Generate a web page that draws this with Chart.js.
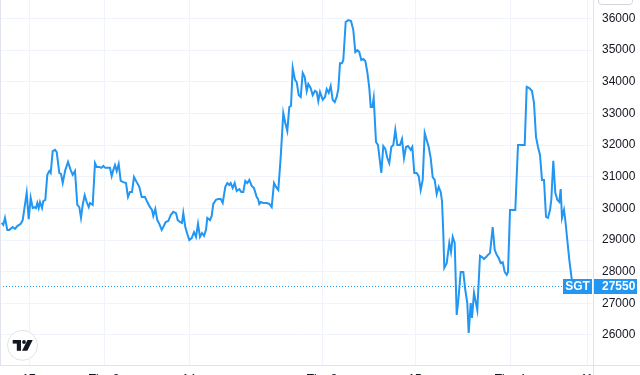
<!DOCTYPE html>
<html>
<head>
<meta charset="utf-8">
<script src="https://cdn.jsdelivr.net/npm/chart.js@4"></script>
<style>
  html, body { margin: 0; padding: 0; background: #fff; overflow: hidden; }
  canvas { display: block; }
</style>
</head>
<body>
<canvas id="chart" width="640" height="375"></canvas>
<script>
// Dados (posição no tempo / preço)
const times = [
  1.7,3.3,5,7.3,9.3,12.7,15,17.3,20.7,22.7,
  26.7,28.7,30.7,32.7,34.7,36,37.3,38.7,40,42,
  43.3,45.3,47.3,49.3,50.7,52.7,55,56.7,59.3,61,
  62.7,65.3,68,70.7,72.7,75,77.3,79.3,81,82.7,
  84.7,86.7,88.7,90,92.7,95,96.7,99.3,101.3,103.3,
  105.3,108,110,111.7,113.3,115,116.7,118.7,120.7,123.3,
  126,128,130,132,134,136.7,139.3,141.7,145,147.3,
  150,152,153.3,155.3,157.3,159.3,161.7,163.3,165.7,168.3,
  170.7,173.3,176,177.7,180,182,183.3,185.3,187.3,189.3,
  191.7,194,196,198,200,202,204,206,207.3,210,
  211.7,213.3,216,218.3,220.7,222.7,225.3,227.3,229.3,230.7,
  232.7,234.7,236.7,239.3,241.3,243.3,245.3,247.3,249.3,251.7,
  254,256.7,258,259.3,260.7,263.3,266.7,269.3,271.7,274,
  276,278.3,280.7,283.3,285.3,287.3,289.3,291,292.7,295,
  296.7,298.7,300.7,302.7,304.7,306.7,308.3,310.7,312.7,315,
  316.7,318.3,320,
  322.7,325,326.7,328.7,330.7,332.7,334.7,336.7,338.3,340,
  342,343.3,345.7,348.3,351,353.3,355.3,357.3,359.3,361.3,
  363.3,365.3,367.3,369.3,370.7,372.3,373.7,376,378,381.3,
  383.3,385.3,387.3,389.3,391.3,393.3,395.3,397.3,400,402,
  404,406,408,410.7,412.3,414.3,416.7,418.7,420.7,422.7,
  424.7,426.7,428.7,430.7,432.7,434.7,436.7,438.7,440.7,442,
  443.3,444.3,446.7,449.3,451,452.7,454.7,456.7,458.3,460.7,
  463.3,465.3,467.3,468.7,470.7,472,474,477.3,480,482,
  484,486,488,490,492.7,494.7,496.7,498.7,500.7,502.7,
  504.7,506.7,508,510,512,515.3,518,520.7,524.7,526.7,
  529.3,532,534,536,538,540,542,544,546,548,
  550,551.3,553.3,555.3,557.3,559.3,560.7,562,564,565.3,
  567.3,569.3,571.7,572.7
];

const prices = [
  29540,29480,29700,29320,29320,29410,29350,29440,29510,29630,
  30490,29660,30330,30010,30040,30010,30170,30010,30200,30010,
  30230,30270,31060,31180,31120,31810,31850,31780,31120,31090,
  30800,31210,31470,31210,31060,31180,30110,30040,29700,30110,
  30420,30200,30040,30170,30110,31430,31310,31310,31280,31340,
  31280,31280,31280,31020,31210,31370,31180,31400,30870,30830,
  30800,30360,30520,30520,30990,30830,30680,30360,30360,30200,
  30040,29950,29760,29980,29630,29510,29320,29410,29570,29600,
  29790,29890,29850,29630,29570,29540,29850,29410,29190,29000,
  29060,29250,29100,29510,29100,29220,29130,29320,29700,29630,
  29760,30140,30270,30300,30300,30170,30680,30800,30740,30800,
  30640,30800,30550,30610,30520,30520,30870,30800,30900,30710,
  30640,30360,30300,30140,30200,30170,30170,30140,30040,30800,
  30680,30580,31620,33010,32700,32450,33200,33240,34440,34060,
  33990,33580,33520,34280,34150,33710,33930,33800,33580,33710,
  33680,33390,33680,
  33430,33520,33770,33650,33870,33430,33360,33520,33770,34590,
  34590,34690,35890,35950,35920,35640,34940,35000,34940,34690,
  34720,34660,34310,33800,33200,33200,33490,32100,32000,31120,
  31970,31880,31590,31430,31940,32000,32480,32000,32000,32190,
  31590,31940,31970,31850,31940,31120,31120,31020,30580,30900,
  32380,32160,31940,31590,30990,30900,30450,30680,30520,30230,
  29220,28120,28270,28910,28620,29100,28910,26630,27100,27990,
  27990,27420,27010,26060,27010,26540,27330,26790,28500,28460,
  28400,28460,28530,28590,29410,28690,28530,28430,28270,28300,
  27990,27900,27990,29950,29950,29950,32000,32000,32000,33840,
  33800,33710,33330,32260,31940,31690,30900,30900,29730,29700,
  29950,30270,31500,30490,30270,30200,30610,29700,29950,29630,
  29000,28370,27770,27550
];

const yTicks = [26000,27000,28000,29000,30000,31000,32000,33000,34000,35000,36000];
const xTickPos = [29, 104, 189, 322, 415, 510, 587];
const xTickLabels = ['17', 'Thg 2', '14', 'Thg 3', '15', 'Thg 4', '11'];
const symbol = 'SGT';
const lastPrice = prices[prices.length - 1];

// Cores e fonte
const lineColor = '#2196f3';
const gridColor = '#f0f3fa';
const borderColor = '#e0e3eb';
const textColor = '#131722';
const fontFamily = '"Liberation Sans Narrow", "Liberation Sans", Arial, sans-serif';

// Plugin para linha pontilhada, etiquetas e logo
const overlay = {
  id: 'overlay',
  beforeDatasetsDraw(chart) {
    const { ctx, chartArea, scales } = chart;
    const y = Math.round(scales.y.getPixelForValue(lastPrice)) + 0.5;
    ctx.save();
    ctx.strokeStyle = lineColor;
    ctx.lineWidth = 1;
    ctx.setLineDash([1, 2]);
    ctx.beginPath();
    ctx.moveTo(chartArea.left, y);
    ctx.lineTo(chartArea.right, y);
    ctx.stroke();
    ctx.restore();
  },
  afterDraw(chart) {
    const { ctx, chartArea, scales } = chart;
    const right = chartArea.right;
    const bottom = chartArea.bottom;
    ctx.save();

    // bordas dos eixos
    ctx.strokeStyle = borderColor;
    ctx.lineWidth = 1;
    ctx.beginPath();
    ctx.moveTo(0, bottom + 0.5);
    ctx.lineTo(640, bottom + 0.5);
    ctx.moveTo(right + 0.5, 0);
    ctx.lineTo(right + 0.5, 375);
    ctx.moveTo(0.5, 0);
    ctx.lineTo(0.5, bottom);
    ctx.stroke();

    // etiquetas do último preço
    const yc = Math.round(scales.y.getPixelForValue(lastPrice));
    ctx.fillStyle = lineColor;
    ctx.fillRect(right - 30, yc - 7, 29, 15);
    ctx.fillRect(right + 1, yc - 7, 43, 15);
    ctx.fillStyle = '#ffffff';
    ctx.font = 'bold 12px ' + fontFamily;
    ctx.textBaseline = 'middle';
    ctx.textAlign = 'center';
    ctx.fillText(symbol, right - 15.5, yc + 0.5);
    ctx.textAlign = 'left';
    ctx.fillText(String(lastPrice), right + 9, yc + 0.5);

    // botão no canto superior direito
    ctx.strokeStyle = '#d1d4dc';
    ctx.beginPath();
    ctx.roundRect(598.5, -12, 34, 16.5, 3);
    ctx.stroke();

    // logo
    ctx.fillStyle = '#ffffff';
    ctx.strokeStyle = '#e0e3eb';
    ctx.beginPath();
    ctx.arc(22.5, 345.3, 15, 0, Math.PI * 2);
    ctx.fill();
    ctx.stroke();
    ctx.fillStyle = '#131722';
    ctx.fillRect(12.7, 340, 8.3, 3.6);
    ctx.fillRect(16.8, 340, 4.2, 10.8);
    ctx.beginPath();
    ctx.arc(24, 342, 1.9, 0, Math.PI * 2);
    ctx.fill();
    ctx.beginPath();
    ctx.moveTo(27.5, 340);
    ctx.lineTo(32.7, 340);
    ctx.lineTo(27.3, 350.8);
    ctx.lineTo(22, 350.8);
    ctx.closePath();
    ctx.fill();

    ctx.restore();
  }
};

new Chart(document.getElementById('chart'), {
  type: 'line',
  data: {
    datasets: [{
      data: times.map((t, i) => ({ x: t, y: prices[i] })),
      borderColor: lineColor,
      borderWidth: 2,
      pointRadius: 0,
      tension: 0,
      fill: false
    }]
  },
  options: {
    responsive: false,
    devicePixelRatio: 1,
    animation: false,
    layout: { padding: 0 },
    plugins: { legend: { display: false }, tooltip: { enabled: false } },
    scales: {
      x: {
        type: 'linear',
        position: 'bottom',
        min: 0,
        max: 593,
        grid: { color: gridColor, drawTicks: false },
        border: { display: false },
        ticks: {
          autoSkip: false,
          maxRotation: 0,
          padding: 7,
          color: textColor,
          font: { size: 12, family: fontFamily },
          callback: (v, i) => xTickLabels[i]
        },
        afterBuildTicks: (scale) => { scale.ticks = xTickPos.map(v => ({ value: v })); },
        afterFit: (scale) => { scale.height = 10; scale.paddingLeft = 0; scale.paddingRight = 0; }
      },
      y: {
        type: 'linear',
        position: 'right',
        min: 25050,
        max: 36585,
        grid: { color: gridColor, drawTicks: false },
        border: { display: false },
        ticks: {
          padding: 9,
          color: textColor,
          font: { size: 12, family: fontFamily },
          callback: (v) => String(v)
        },
        afterBuildTicks: (scale) => { scale.ticks = yTicks.map(v => ({ value: v })); },
        afterFit: (scale) => { scale.width = 47; scale.paddingTop = 0; scale.paddingBottom = 0; }
      }
    }
  },
  plugins: [overlay]
});
</script>
</body>
</html>
